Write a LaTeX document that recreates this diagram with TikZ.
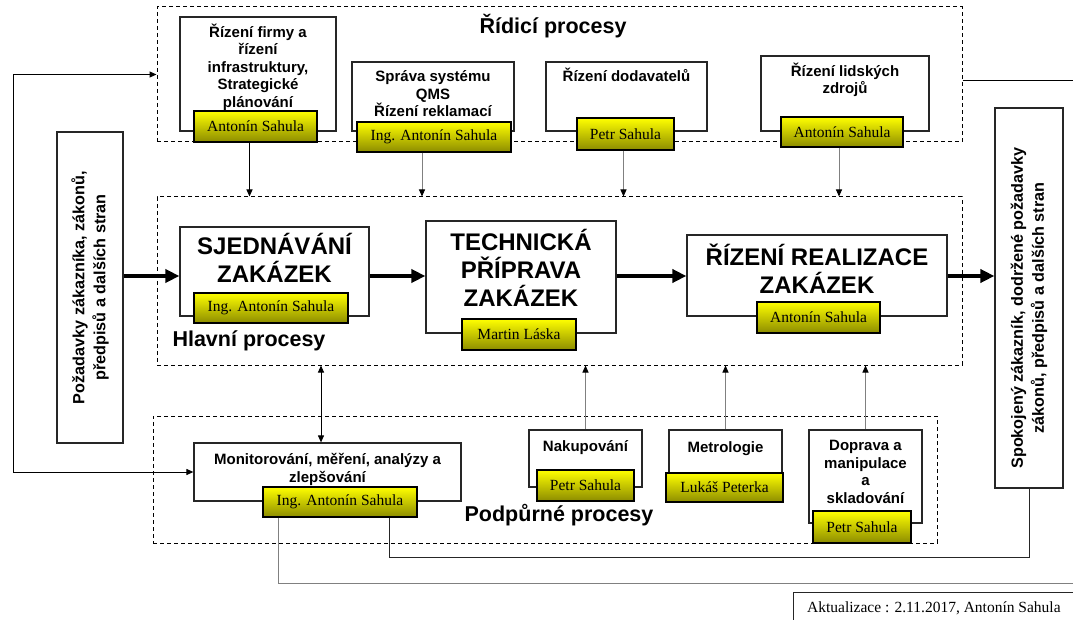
\documentclass[tikz,border=0pt]{standalone}
\usepackage{fontspec}
\setmainfont{Liberation Sans}
\newfontfamily\tms{Liberation Serif}
\usetikzlibrary{arrows.meta,positioning}
\definecolor{tagolive}{RGB}{140,140,0}
\definecolor{linegray}{RGB}{128,128,128}
\tikzset{
  frame/.style={draw=black!85, line width=1.2pt, fill=white, inner sep=0pt},
  group/.style={draw, dash pattern=on 4pt off 3pt, line width=1pt, inner sep=0pt},
  tag/.style={draw, line width=1.2pt, top color=yellow, bottom color=tagolive, inner sep=0pt, font=\tms\fontsize{15.5}{17}\selectfont},
  boxtext/.style={align=center, inner sep=0pt, font=\bfseries\fontsize{15}{17.5}\selectfont},
  bigtext/.style={align=center, inner sep=0pt, font=\bfseries\fontsize{24}{28}\selectfont},
  grouptitle/.style={inner sep=0pt, font=\bfseries\fontsize{21.5}{24}\selectfont},
  sidetext/.style={rotate=90, align=center, inner sep=0pt, font=\bfseries\fontsize{16.2}{21}\selectfont},
  conn/.style={line width=1pt, -{Triangle[length=7pt,width=6pt]}},
  gconn/.style={line width=1pt, draw=linegray, -{Triangle[length=7pt,width=6pt,color=black]}},
  both/.style={line width=1pt, {Triangle[length=7pt,width=6pt]}-{Triangle[length=7pt,width=6pt]}},
  flow/.style={line width=4pt, -{Triangle[length=14pt,width=13pt]}},
}
\begin{document}
\begin{tikzpicture}[x=1pt, y=-1pt]
\useasboundingbox (0,0) rectangle (1073,620);

\node[group, minimum width=805, minimum height=135] (ridici) at (559.5,74.5) {};
\node[group, minimum width=805, minimum height=168] (hlavni) at (559.5,281) {};
\node[group, minimum width=784, minimum height=127] (podp) at (545,479.5) {};

\node[grouptitle] (ridici-t) at (553,26) {Řídicí procesy};
\node[grouptitle] (hlavni-t) at (249,341) {Hlavní procesy};
\node[grouptitle] (podp-t) at (559,515) {Podpůrné procesy};

\node[frame, minimum width=156, minimum height=114] (firma) at (258,74) {};
\node[frame, minimum width=162, minimum height=69] (sprava) at (433,96.5) {};
\node[frame, minimum width=161, minimum height=69] (dodav) at (626.5,96.5) {};
\node[frame, minimum width=168, minimum height=75] (lidi) at (845,93.5) {};
\node[frame, minimum width=189, minimum height=89] (sjedn) at (274.5,271.5) {};
\node[frame, minimum width=190, minimum height=112] (techn) at (521,277) {};
\node[frame, minimum width=260, minimum height=81] (realiz) at (817,275.5) {};
\node[frame, minimum width=267, minimum height=58] (monit) at (327.5,472) {};
\node[frame, minimum width=113, minimum height=57] (nakup) at (585.5,458.5) {};
\node[frame, minimum width=113, minimum height=43] (metro) at (725.5,451.5) {};
\node[frame, minimum width=113, minimum height=93] (doprava) at (865.5,476.5) {};
\node[frame, minimum width=66, minimum height=311] (pozad) at (90,287.5) {};
\node[frame, minimum width=68, minimum height=380] (spok) at (1029,298) {};

\node[boxtext, below=7pt of firma.north] (firma-t) {Řízení firmy a\\řízení\\infrastruktury,\\Strategické\\plánování};
\node[boxtext, below=9pt of sprava.north] (sprava-t) {Správa systému\\QMS\\Řízení reklamací};
\node[boxtext, below=6pt of dodav.north] (dodav-t) {Řízení dodavatelů};
\node[boxtext, below=7pt of lidi.north] (lidi-t) {Řízení lidských\\zdrojů};
\node[bigtext, below=7pt of sjedn.north] (sjedn-t) {SJEDNÁVÁNÍ\\ZAKÁZEK};
\node[bigtext, below=9pt of techn.north] (techn-t) {TECHNICKÁ\\PŘÍPRAVA\\ZAKÁZEK};
\node[bigtext, below=9pt of realiz.north] (realiz-t) {ŘÍZENÍ REALIZACE\\ZAKÁZEK};
\node[boxtext, below=11pt of monit.north] (monit-t) {Monitorování, měření, analýzy a\\zlepšování};
\node[boxtext, below=11pt of nakup.north] (nakup-t) {Nakupování};
\node[boxtext, below=12pt of metro.north] (metro-t) {Metrologie};
\node[boxtext, below=11pt of doprava.north] (doprava-t) {Doprava a\\manipulace\\a\\skladování};
\node[sidetext] (pozad-t) at (pozad) {Požadavky zákazníka, zákonů,\\předpisů a dalších stran};
\node[sidetext] (spok-t) at ([yshift=-10pt]spok.center) {Spokojený zákazník, dodržené požadavky\\zákonů, předpisů a dalších stran};

\node[tag, minimum width=123, minimum height=31] (firma-y) at (255.5,126.5) {Antonín Sahula};
\node[tag, minimum width=154, minimum height=30] (sprava-y) at (434,137) {Ing. Antonín Sahula};
\node[tag, minimum width=97, minimum height=32] (dodav-y) at (625.5,134) {Petr Sahula};
\node[tag, minimum width=122, minimum height=30] (lidi-y) at (842,132) {Antonín Sahula};
\node[tag, minimum width=154, minimum height=30] (sjedn-y) at (271,308) {Ing. Antonín Sahula};
\node[tag, minimum width=114, minimum height=31] (techn-y) at (519,334.5) {Martin Láska};
\node[tag, minimum width=123, minimum height=31] (realiz-y) at (818.5,317.5) {Antonín Sahula};
\node[tag, minimum width=154, minimum height=30] (monit-y) at (340,502) {Ing. Antonín Sahula};
\node[tag, minimum width=97, minimum height=31] (nakup-y) at (585.5,485.5) {Petr Sahula};
\node[tag, minimum width=117, minimum height=29] (metro-y) at (724.5,487.5) {Lukáš Peterka};
\node[tag, minimum width=98, minimum height=32] (doprava-y) at (862,527) {Petr Sahula};

\node[frame, line width=1pt, anchor=north west, minimum width=300, minimum height=40] (aktual) at (793,592) {};
\node[anchor=west, inner sep=0pt, font=\tms\fontsize{15.5}{17}\selectfont] (aktual-t) at (807,608) {Aktualizace : 2.11.2017, Antonín Sahula};

\coordinate (flowy) at (0,276);
\coordinate (loopL) at (13,0);
\coordinate (loopB) at (0,557);
\coordinate (outR) at (1073,81);
\coordinate (outB) at (1073,583);

\draw[flow] (pozad.east |- flowy) -- (sjedn.west |- flowy);
\draw[flow] (sjedn.east |- flowy) -- (techn.west |- flowy);
\draw[flow] (techn.east |- flowy) -- (realiz.west |- flowy);
\draw[flow] (realiz.east |- flowy) -- (spok.west |- flowy);

\draw[conn] ([xshift=-6pt]firma-y.south) coordinate (firma-o) -- (firma-o |- hlavni.north);
\draw[gconn] ([xshift=-12pt]sprava-y.south) coordinate (sprava-o) -- (sprava-o |- hlavni.north);
\draw[gconn] ([xshift=-2pt]dodav-y.south) coordinate (dodav-o) -- (dodav-o |- hlavni.north);
\draw[gconn] ([xshift=-3pt]lidi-y.south) coordinate (lidi-o) -- (lidi-o |- hlavni.north);

\draw[gconn] (nakup.north) -- (nakup.north |- hlavni.south);
\draw[gconn] (metro.north) -- (metro.north |- hlavni.south);
\draw[gconn] (doprava.north) -- (doprava.north |- hlavni.south);
\draw[both] ([xshift=-6.5pt]monit.north) coordinate (monit-o) -- (monit-o |- hlavni.south);

\draw[both] (ridici.west) -- (ridici.west -| loopL) |- (monit.west);
\draw[line width=1pt] (ridici.east |- outR) -- (outR);
\draw[line width=1pt, black!85] ([xshift=49pt]monit-y.south) coordinate (monit-a) -- (monit-a |- loopB) -| (spok.south);
\draw[line width=1pt, linegray] ([xshift=-62pt]monit-y.south) |- (outB);
\end{tikzpicture}
\end{document}
